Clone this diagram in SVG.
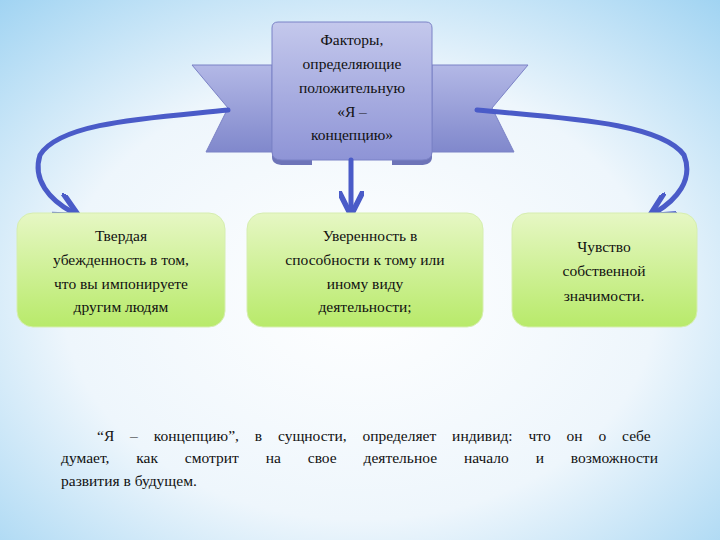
<svg xmlns="http://www.w3.org/2000/svg" width="720" height="540" viewBox="0 0 720 540">
<defs>
<radialGradient id="bg" cx="0.5" cy="0.55" r="0.75">
<stop offset="0" stop-color="#ffffff"/><stop offset="0.55" stop-color="#eef6fc"/><stop offset="1" stop-color="#9fd3f2"/>
</radialGradient>
<linearGradient id="green" x1="0" y1="0" x2="0" y2="1">
<stop offset="0" stop-color="#e6f7c4"/><stop offset="1" stop-color="#b8ea6a"/>
</linearGradient>
<linearGradient id="ribbon" x1="0" y1="0" x2="0" y2="1">
<stop offset="0" stop-color="#c4c8ec"/><stop offset="1" stop-color="#8e94d6"/>
</linearGradient>
<linearGradient id="wing" x1="0" y1="0" x2="0" y2="1">
<stop offset="0" stop-color="#b3b8e6"/><stop offset="1" stop-color="#8088cc"/>
</linearGradient>
<marker id="ah" viewBox="0 0 10 10" refX="7" refY="5" markerWidth="5" markerHeight="5" markerUnits="strokeWidth" orient="auto">
<path d="M0,0 L10,5 L0,10" fill="none" stroke="#4a5bc8" stroke-width="2.2"/>
</marker>
<style>
text{font-family:"Liberation Serif","DejaVu Serif","Times New Roman",serif;font-size:15.5px;fill:#111}
.t{text-anchor:middle}
.box{fill:url(#green);stroke:#d6eeb0;stroke-width:1}
.con{fill:none;stroke:#4a5bc8;stroke-width:5;stroke-linecap:round}
</style>
</defs>
<rect width="720" height="540" fill="url(#bg)"/>
<g id="banner">
<polygon points="192,65 272,65 272,152 206,152 228,108" fill="url(#wing)" stroke="#7b82c6"/>
<polygon points="528,65 432,65 432,152 514,152 492,108" fill="url(#wing)" stroke="#7b82c6"/>
<path d="M272,150 L312,150 L312,165 L284,165 Q272,165 272,157 Z" fill="#6d74b8"/>
<path d="M432,150 L392,150 L392,165 L420,165 Q432,165 432,157 Z" fill="#6d74b8"/>
<path d="M278,22 L426,22 Q432,22 432,28 L432,152 Q432,160 422,160 L282,160 Q272,160 272,152 L272,28 Q272,22 278,22 Z" fill="url(#ribbon)" stroke="#7b82c6"/>
<text class="t" x="352" y="45">Факторы,</text>
<text class="t" x="352" y="69">определяющие</text>
<text class="t" x="352" y="93">положительную</text>
<text class="t" x="352" y="117">«Я –</text>
<text class="t" x="352" y="140">концепцию»</text>
</g>
<g id="connectors">
<path class="con" d="M228,110 C150,118 60,122 40,155 C32,180 50,200 72,212" marker-end="url(#ah)"/>
<path class="con" d="M477,110 C560,118 660,122 684,155 C694,180 676,200 656,212" marker-end="url(#ah)"/>
<path class="con" d="M351,160 L351,208" marker-end="url(#ah)"/>
</g>
<g id="n1">
<rect class="box" x="17" y="213" width="208" height="114" rx="16"/>
<text class="t" x="121" y="241">Твердая</text>
<text class="t" x="121" y="265">убежденность в том,</text>
<text class="t" x="121" y="289">что вы импонируете</text>
<text class="t" x="121" y="312">другим людям</text>
</g>
<g id="n2">
<rect class="box" x="247" y="213" width="236" height="114" rx="16"/>
<text class="t" x="370" y="241">Уверенность в</text>
<text class="t" x="365" y="265">способности к тому или</text>
<text class="t" x="365" y="289">иному виду</text>
<text class="t" x="365" y="312">деятельности;</text>
</g>
<g id="n3">
<rect class="box" x="512" y="213" width="185" height="114" rx="16"/>
<text class="t" x="604" y="252">Чувство</text>
<text class="t" x="604" y="276">собственной</text>
<text class="t" x="604" y="301">значимости.</text>
</g>
<g id="para">
<text x="97" y="441" word-spacing="12">“Я – концепцию”, в сущности, определяет индивид: что он о себе</text>
<text x="61" y="463" word-spacing="23">думает, как смотрит на свое деятельное начало и возможности</text>
<text x="61" y="486">развития в будущем.</text>
</g>
</svg>
